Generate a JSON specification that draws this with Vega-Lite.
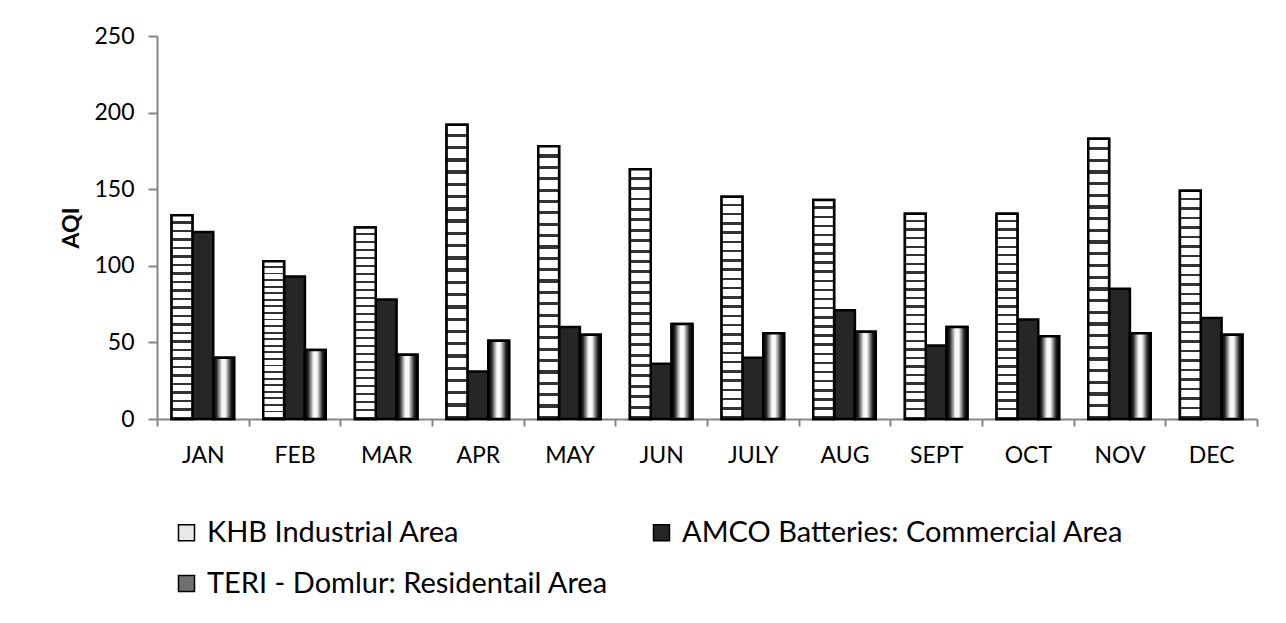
{
  "$schema": "https://vega.github.io/schema/vega-lite/v6.json",
  "width": 1100,
  "height": 383,
  "autosize": {"type": "none"},
  "padding": {"left": 157, "top": 36, "right": 29, "bottom": 204},
  "background": "white",
  "config": {
    "font": "Lato",
    "view": {"stroke": null},
    "axis": {"labelFont": "Lato", "titleFont": "Lato", "labelColor": "black", "titleColor": "black"},
    "legend": {"labelFont": "Lato"}
  },
  "data": {
    "values": [
      {"month": "JAN", "site": "KHB Industrial Area", "aqi": 133},
      {"month": "JAN", "site": "AMCO Batteries: Commercial Area", "aqi": 122},
      {"month": "JAN", "site": "TERI - Domlur: Residentail Area", "aqi": 40},
      {"month": "FEB", "site": "KHB Industrial Area", "aqi": 103},
      {"month": "FEB", "site": "AMCO Batteries: Commercial Area", "aqi": 93},
      {"month": "FEB", "site": "TERI - Domlur: Residentail Area", "aqi": 45},
      {"month": "MAR", "site": "KHB Industrial Area", "aqi": 125},
      {"month": "MAR", "site": "AMCO Batteries: Commercial Area", "aqi": 78},
      {"month": "MAR", "site": "TERI - Domlur: Residentail Area", "aqi": 42},
      {"month": "APR", "site": "KHB Industrial Area", "aqi": 192},
      {"month": "APR", "site": "AMCO Batteries: Commercial Area", "aqi": 31},
      {"month": "APR", "site": "TERI - Domlur: Residentail Area", "aqi": 51},
      {"month": "MAY", "site": "KHB Industrial Area", "aqi": 178},
      {"month": "MAY", "site": "AMCO Batteries: Commercial Area", "aqi": 60},
      {"month": "MAY", "site": "TERI - Domlur: Residentail Area", "aqi": 55},
      {"month": "JUN", "site": "KHB Industrial Area", "aqi": 163},
      {"month": "JUN", "site": "AMCO Batteries: Commercial Area", "aqi": 36},
      {"month": "JUN", "site": "TERI - Domlur: Residentail Area", "aqi": 62},
      {"month": "JULY", "site": "KHB Industrial Area", "aqi": 145},
      {"month": "JULY", "site": "AMCO Batteries: Commercial Area", "aqi": 40},
      {"month": "JULY", "site": "TERI - Domlur: Residentail Area", "aqi": 56},
      {"month": "AUG", "site": "KHB Industrial Area", "aqi": 143},
      {"month": "AUG", "site": "AMCO Batteries: Commercial Area", "aqi": 71},
      {"month": "AUG", "site": "TERI - Domlur: Residentail Area", "aqi": 57},
      {"month": "SEPT", "site": "KHB Industrial Area", "aqi": 134},
      {"month": "SEPT", "site": "AMCO Batteries: Commercial Area", "aqi": 48},
      {"month": "SEPT", "site": "TERI - Domlur: Residentail Area", "aqi": 60},
      {"month": "OCT", "site": "KHB Industrial Area", "aqi": 134},
      {"month": "OCT", "site": "AMCO Batteries: Commercial Area", "aqi": 65},
      {"month": "OCT", "site": "TERI - Domlur: Residentail Area", "aqi": 54},
      {"month": "NOV", "site": "KHB Industrial Area", "aqi": 183},
      {"month": "NOV", "site": "AMCO Batteries: Commercial Area", "aqi": 85},
      {"month": "NOV", "site": "TERI - Domlur: Residentail Area", "aqi": 56},
      {"month": "DEC", "site": "KHB Industrial Area", "aqi": 149},
      {"month": "DEC", "site": "AMCO Batteries: Commercial Area", "aqi": 66},
      {"month": "DEC", "site": "TERI - Domlur: Residentail Area", "aqi": 55}
    ]
  },
  "encoding": {
    "x": {
      "field": "month",
      "type": "nominal",
      "sort": null,
      "scale": {"paddingInner": 0, "paddingOuter": 0},
      "axis": {
        "title": null,
        "labelAngle": 0,
        "labelFontSize": 23,
        "labelPadding": 18,
        "tickBand": "extent",
        "tickSize": 7,
        "tickColor": "#868686",
        "tickWidth": 2,
        "domainColor": "#868686",
        "domainWidth": 2
      }
    },
    "xOffset": {
      "field": "site",
      "type": "nominal",
      "scale": {
        "domain": ["KHB Industrial Area", "AMCO Batteries: Commercial Area", "TERI - Domlur: Residentail Area"],
        "paddingInner": 0,
        "paddingOuter": 0.7
      }
    },
    "y": {
      "field": "aqi",
      "type": "quantitative",
      "scale": {"domain": [0, 250], "nice": false},
      "axis": {
        "title": "AQI",
        "titleFontSize": 23,
        "titleFontWeight": "bold",
        "titlePadding": 10,
        "values": [0, 50, 100, 150, 200, 250],
        "labelFontSize": 23,
        "labelPadding": 14,
        "tickSize": 9,
        "tickColor": "#868686",
        "tickWidth": 2,
        "domainColor": "#868686",
        "domainWidth": 2,
        "grid": false
      }
    }
  },
  "layer": [
    {
      "mark": {"type": "bar", "stroke": "black", "strokeWidth": 2.5},
      "encoding": {
        "fill": {
          "field": "site",
          "type": "nominal",
          "scale": {
            "domain": ["KHB Industrial Area", "AMCO Batteries: Commercial Area", "TERI - Domlur: Residentail Area"],
            "range": ["#e8e8e8", "#262626", "#707070"]
          },
          "legend": {
            "title": null,
            "orient": "none",
            "legendX": 15,
            "legendY": 482,
            "direction": "horizontal",
            "columns": 2,
            "columnPadding": 38,
            "rowPadding": 21,
            "symbolType": "square",
            "symbolSize": 256,
            "symbolStrokeColor": "black",
            "symbolStrokeWidth": 1.5,
            "labelFontSize": 29,
            "labelColor": "black",
            "labelOffset": 6,
            "labelLimit": 600
          }
        }
      }
    },
    {
      "transform": [{"filter": "datum.site === 'KHB Industrial Area'"}],
      "mark": {
        "type": "bar",
        "stroke": "black",
        "strokeWidth": 2.5,
        "fill": {"gradient": "linear", "x1": 0, "y1": 0, "x2": 0, "y2": 1, "stops": [
          {"offset": 0, "color": "#ffffff"}, {"offset": 0.03, "color": "#ffffff"}, {"offset": 0.03, "color": "#333333"}, {"offset": 0.0417, "color": "#333333"},
          {"offset": 0.0417, "color": "#ffffff"}, {"offset": 0.0717, "color": "#ffffff"}, {"offset": 0.0717, "color": "#333333"}, {"offset": 0.0833, "color": "#333333"},
          {"offset": 0.0833, "color": "#ffffff"}, {"offset": 0.1133, "color": "#ffffff"}, {"offset": 0.1133, "color": "#333333"}, {"offset": 0.125, "color": "#333333"},
          {"offset": 0.125, "color": "#ffffff"}, {"offset": 0.155, "color": "#ffffff"}, {"offset": 0.155, "color": "#333333"}, {"offset": 0.1667, "color": "#333333"},
          {"offset": 0.1667, "color": "#ffffff"}, {"offset": 0.1967, "color": "#ffffff"}, {"offset": 0.1967, "color": "#333333"}, {"offset": 0.2083, "color": "#333333"},
          {"offset": 0.2083, "color": "#ffffff"}, {"offset": 0.2383, "color": "#ffffff"}, {"offset": 0.2383, "color": "#333333"}, {"offset": 0.25, "color": "#333333"},
          {"offset": 0.25, "color": "#ffffff"}, {"offset": 0.28, "color": "#ffffff"}, {"offset": 0.28, "color": "#333333"}, {"offset": 0.2917, "color": "#333333"},
          {"offset": 0.2917, "color": "#ffffff"}, {"offset": 0.3217, "color": "#ffffff"}, {"offset": 0.3217, "color": "#333333"}, {"offset": 0.3333, "color": "#333333"},
          {"offset": 0.3333, "color": "#ffffff"}, {"offset": 0.3633, "color": "#ffffff"}, {"offset": 0.3633, "color": "#333333"}, {"offset": 0.375, "color": "#333333"},
          {"offset": 0.375, "color": "#ffffff"}, {"offset": 0.405, "color": "#ffffff"}, {"offset": 0.405, "color": "#333333"}, {"offset": 0.4167, "color": "#333333"},
          {"offset": 0.4167, "color": "#ffffff"}, {"offset": 0.4467, "color": "#ffffff"}, {"offset": 0.4467, "color": "#333333"}, {"offset": 0.4583, "color": "#333333"},
          {"offset": 0.4583, "color": "#ffffff"}, {"offset": 0.4883, "color": "#ffffff"}, {"offset": 0.4883, "color": "#333333"}, {"offset": 0.5, "color": "#333333"},
          {"offset": 0.5, "color": "#ffffff"}, {"offset": 0.53, "color": "#ffffff"}, {"offset": 0.53, "color": "#333333"}, {"offset": 0.5417, "color": "#333333"},
          {"offset": 0.5417, "color": "#ffffff"}, {"offset": 0.5717, "color": "#ffffff"}, {"offset": 0.5717, "color": "#333333"}, {"offset": 0.5833, "color": "#333333"},
          {"offset": 0.5833, "color": "#ffffff"}, {"offset": 0.6133, "color": "#ffffff"}, {"offset": 0.6133, "color": "#333333"}, {"offset": 0.625, "color": "#333333"},
          {"offset": 0.625, "color": "#ffffff"}, {"offset": 0.655, "color": "#ffffff"}, {"offset": 0.655, "color": "#333333"}, {"offset": 0.6667, "color": "#333333"},
          {"offset": 0.6667, "color": "#ffffff"}, {"offset": 0.6967, "color": "#ffffff"}, {"offset": 0.6967, "color": "#333333"}, {"offset": 0.7083, "color": "#333333"},
          {"offset": 0.7083, "color": "#ffffff"}, {"offset": 0.7383, "color": "#ffffff"}, {"offset": 0.7383, "color": "#333333"}, {"offset": 0.75, "color": "#333333"},
          {"offset": 0.75, "color": "#ffffff"}, {"offset": 0.78, "color": "#ffffff"}, {"offset": 0.78, "color": "#333333"}, {"offset": 0.7917, "color": "#333333"},
          {"offset": 0.7917, "color": "#ffffff"}, {"offset": 0.8217, "color": "#ffffff"}, {"offset": 0.8217, "color": "#333333"}, {"offset": 0.8333, "color": "#333333"},
          {"offset": 0.8333, "color": "#ffffff"}, {"offset": 0.8633, "color": "#ffffff"}, {"offset": 0.8633, "color": "#333333"}, {"offset": 0.875, "color": "#333333"},
          {"offset": 0.875, "color": "#ffffff"}, {"offset": 0.905, "color": "#ffffff"}, {"offset": 0.905, "color": "#333333"}, {"offset": 0.9167, "color": "#333333"},
          {"offset": 0.9167, "color": "#ffffff"}, {"offset": 0.9467, "color": "#ffffff"}, {"offset": 0.9467, "color": "#333333"}, {"offset": 0.9583, "color": "#333333"},
          {"offset": 0.9583, "color": "#ffffff"}, {"offset": 0.9883, "color": "#ffffff"}, {"offset": 0.9883, "color": "#333333"}, {"offset": 1, "color": "#333333"}
        ]}
      }
    },
    {
      "transform": [{"filter": "datum.site === 'TERI - Domlur: Residentail Area'"}],
      "mark": {
        "type": "bar",
        "stroke": "black",
        "strokeWidth": 2.5,
        "fill": {"gradient": "linear", "x1": 0, "y1": 0, "x2": 1, "y2": 0, "stops": [
          {"offset": 0, "color": "#000000"}, {"offset": 0.15, "color": "#222222"}, {"offset": 0.42, "color": "#f8f8f8"}, {"offset": 0.58, "color": "#f8f8f8"}, {"offset": 0.85, "color": "#222222"}, {"offset": 1, "color": "#000000"}
        ]}
      }
    }
  ]
}
